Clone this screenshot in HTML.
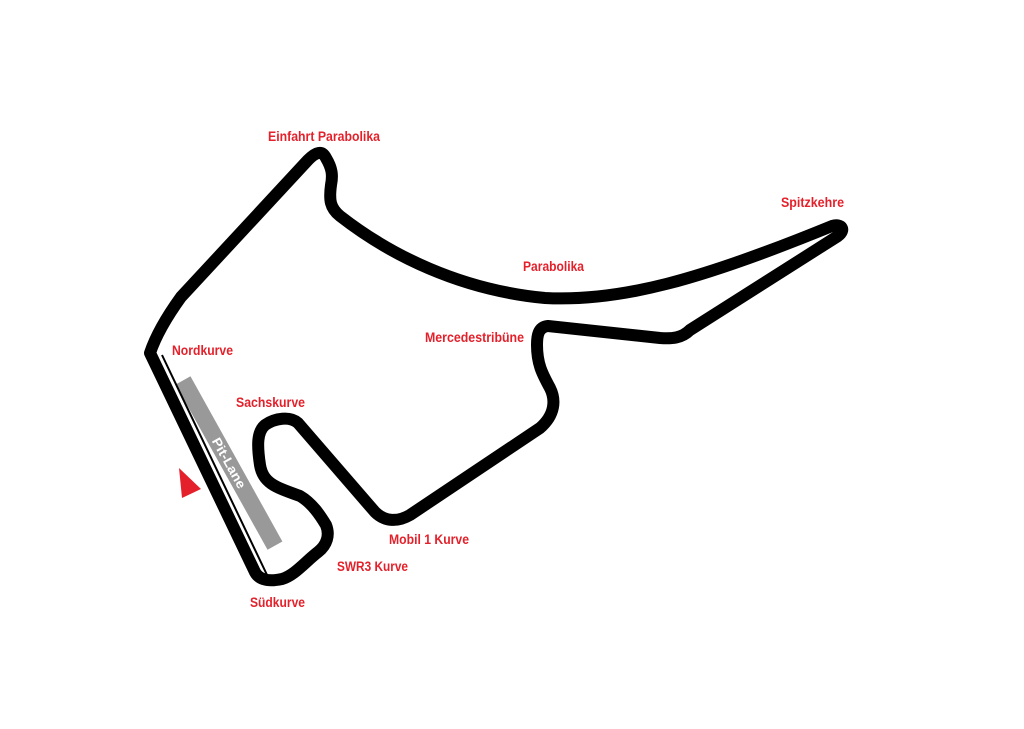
<!DOCTYPE html>
<html><head><meta charset="utf-8"><style>
body{margin:0;background:#fff;width:1024px;height:724px;overflow:hidden}
text{font-family:"Liberation Sans",sans-serif;font-weight:bold;font-size:13.5px;fill:#e4212b}
</style></head><body>
<svg width="1024" height="724" viewBox="0 0 1024 724">
<rect x="-94.5" y="-8.5" width="189" height="17" fill="#999" transform="translate(229,463) rotate(60.9)"/>
<text x="-28" y="4.5" transform="translate(229,463) rotate(60.9)" textLength="56" lengthAdjust="spacingAndGlyphs" style="fill:#fff;font-size:13px">Pit-Lane</text>
<path d="M162,355 L268,577" stroke="#000" stroke-width="2" fill="none"/>
<path d="M150,353 C156,335 168,315 181,297 L308,160 C316,152 322,150 326,158 C332,168 333,175 331,185 C329,200 330,208 340,216 C390,255 460,290 545,298 C620,302 700,280 832,226 C842,223 846,230 838,236 L690,330 C682,338 672,339 660,338 L548,326 C538,327 537,336 537,345 C537,365 543,375 550,388 C556,400 555,415 540,428 L410,515 C398,522 385,522 375,512 L298,423 C290,416 275,418 265,425 C257,432 257,445 260,465 C263,483 275,487 300,496 C312,503 320,515 326,525 C330,535 327,545 318,552 C305,562 295,575 282,579 C268,582 258,580 254,570 Z" stroke="#000" stroke-width="12" fill="none" stroke-linejoin="round"/>
<polygon points="179,468 201,489 182,498" fill="#e4212b"/>
<text x="268" y="141" textLength="112" lengthAdjust="spacingAndGlyphs">Einfahrt Parabolika</text>
<text x="781" y="207" textLength="63" lengthAdjust="spacingAndGlyphs">Spitzkehre</text>
<text x="523" y="271" textLength="61" lengthAdjust="spacingAndGlyphs">Parabolika</text>
<text x="425" y="342" textLength="99" lengthAdjust="spacingAndGlyphs">Mercedestribüne</text>
<text x="172" y="355" textLength="61" lengthAdjust="spacingAndGlyphs">Nordkurve</text>
<text x="236" y="407" textLength="69" lengthAdjust="spacingAndGlyphs">Sachskurve</text>
<text x="389" y="544" textLength="80" lengthAdjust="spacingAndGlyphs">Mobil 1 Kurve</text>
<text x="337" y="571" textLength="71" lengthAdjust="spacingAndGlyphs">SWR3 Kurve</text>
<text x="250" y="607" textLength="55" lengthAdjust="spacingAndGlyphs">Südkurve</text>
</svg>
</body></html>
